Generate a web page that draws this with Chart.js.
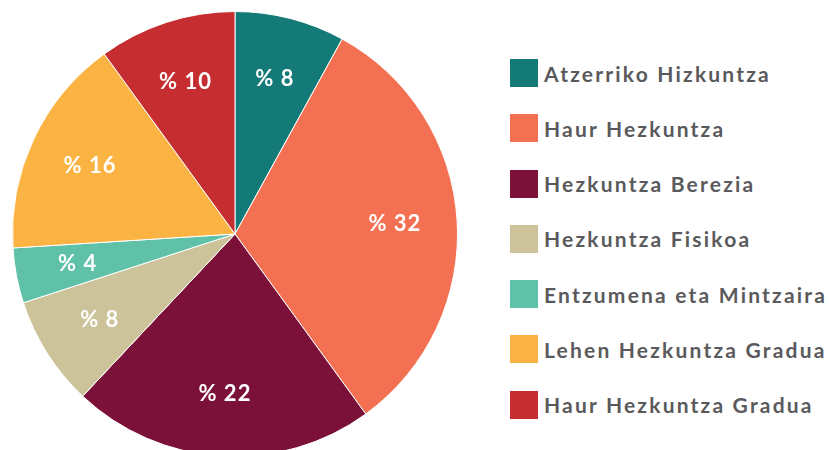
<!DOCTYPE html>
<html>
<head>
<meta charset="utf-8">
<script src="https://cdn.jsdelivr.net/npm/chart.js@4.4.0/dist/chart.umd.min.js"></script>
<style>
    html, body { margin: 0; padding: 0; background: #fff; overflow: hidden; width: 829px; height: 450px; }
    #wrap { position: absolute; left: 0; top: -1px; width: 470px; height: 470px; }
    #legenda { position: absolute; left: 510px; top: 59px; font-family: Lato, sans-serif; font-weight: 700; font-size: 21px; color: #5a5a5c; letter-spacing: 2.2px; }
    .item { height: 28px; margin-bottom: 27.3px; display: flex; align-items: center; white-space: nowrap; }
    .caja { width: 28px; height: 28px; margin-right: 6px; flex: none; }
</style>
</head>
<body>
<div id="wrap"><canvas id="graficoTarta"></canvas></div>
<div id="legenda"></div>
<script>
const categorias = ['Atzerriko Hizkuntza', 'Haur Hezkuntza', 'Hezkuntza Berezia', 'Hezkuntza Fisikoa', 'Entzumena eta Mintzaira', 'Lehen Hezkuntza Gradua', 'Haur Hezkuntza Gradua'];
const porcentajes = [8, 32, 22, 8, 4, 16, 10];
const colores = ['#137a77', '#f37053', '#7b1139', '#cdc39a', '#5fc1a8', '#fbb343', '#c62d30'];

// etiquetas "% N" dentro de cada porción
const etiquetasPlugin = {
    id: 'etiquetas',
    afterDatasetsDraw(chart) {
        const ctx = chart.ctx;
        const meta = chart.getDatasetMeta(0);
        ctx.save();
        ctx.fillStyle = '#ffffff';
        ctx.font = '700 22px Lato, sans-serif';
        ctx.letterSpacing = '1px';
        ctx.textAlign = 'center';
        ctx.textBaseline = 'middle';
        meta.data.forEach(function(arc, i) {
            const medio = (arc.startAngle + arc.endAngle) / 2;
            const r = arc.outerRadius * 0.72;
            const x = arc.x + Math.cos(medio) * r;
            const y = arc.y + Math.sin(medio) * r;
            ctx.fillText('% ' + porcentajes[i], x, y);
        });
        ctx.restore();
    }
};

new Chart(document.getElementById('graficoTarta'), {
    type: 'pie',
    data: {
        labels: categorias,
        datasets: [{
            data: porcentajes,
            backgroundColor: colores,
            borderColor: '#ffffff',
            borderWidth: 1
        }]
    },
    options: {
        responsive: true,
        maintainAspectRatio: false,
        animation: false,
        layout: { padding: 12 },
        plugins: {
            legend: { display: false },
            tooltip: { enabled: false }
        }
    },
    plugins: [etiquetasPlugin]
});

let legenda = document.getElementById('legenda');
categorias.forEach(function(nombre, i) {
    let fila = document.createElement('div');
    fila.className = 'item';
    fila.innerHTML = '<span class="caja" style="background:' + colores[i] + '"></span>' + nombre;
    legenda.appendChild(fila);
});
</script>
</body>
</html>
